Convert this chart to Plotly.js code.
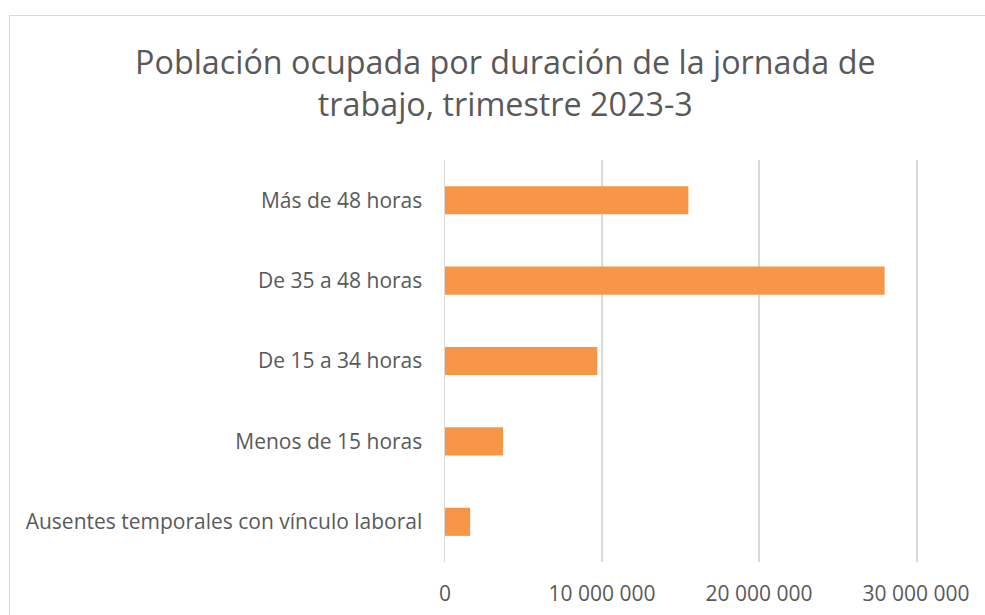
<!DOCTYPE html>
<html>
<head>
<meta charset="utf-8">
<script src="https://cdn.plot.ly/plotly-3.0.1.min.js"></script>
<style>
html,body{margin:0;padding:0;background:#fff;}
#chart{width:985px;height:615px;position:absolute;left:0;top:0;}
#frame{position:absolute;left:9px;top:15px;width:990px;height:620px;border-top:1.5px solid #d9d9d9;border-left:1.5px solid #d9d9d9;pointer-events:none;}
</style>
</head>
<body>
<div id="chart"></div>
<div id="frame"></div>
<script>
const categories = [
  "Ausentes temporales con vínculo laboral",
  "Menos de 15 horas",
  "De 15 a 34 horas",
  "De 35 a 48 horas",
  "Más de 48 horas"
];
const values = [1600000, 3700000, 9700000, 28000000, 15500000];
const tickValues = [0, 10000000, 20000000, 30000000];
const tickLabels = ["0", "10 000 000", "20 000 000", "30 000 000"];
const titleText = "Población ocupada por duración de la jornada de<br>trabajo, trimestre 2023-3";

const fontFamily = "Open Sans, Liberation Sans, sans-serif";

Plotly.newPlot("chart", [{
  type: "bar",
  orientation: "h",
  y: categories,
  x: values,
  marker: {color: "#F79646"},
  hoverinfo: "x+y"
}], {
  width: 985,
  height: 615,
  margin: {l: 445, r: 69, t: 160, b: 53},
  paper_bgcolor: "#ffffff",
  plot_bgcolor: "#ffffff",
  bargap: 0.65,
  showlegend: false,
  title: {
    text: titleText,
    font: {family: fontFamily, size: 32.3, color: "#595959"},
    x: 0.513,
    xanchor: "center",
    y: 0.879,
    yanchor: "middle"
  },
  xaxis: {
    range: [0, 30000000],
    tickvals: tickValues,
    ticktext: tickLabels,
    showgrid: true,
    gridcolor: "#d9d9d9",
    gridwidth: 1.5,
    zeroline: false,
    showline: false,
    ticks: "",
    ticklabelstandoff: 17,
    tickfont: {family: fontFamily, size: 21, color: "#595959"},
    fixedrange: true
  },
  yaxis: {
    type: "category",
    categoryorder: "array",
    categoryarray: categories,
    showgrid: false,
    zeroline: false,
    showline: true,
    mirror: true,
    linecolor: "#d9d9d9",
    linewidth: 1.5,
    ticks: "",
    ticklabelstandoff: 17,
    tickfont: {family: fontFamily, size: 21, color: "#595959"},
    fixedrange: true
  }
}, {displayModeBar: false, staticPlot: true});
</script>
</body>
</html>
